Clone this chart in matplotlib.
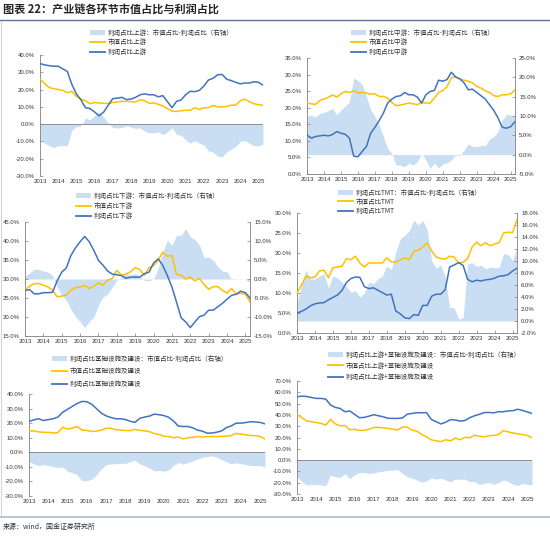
import numpy as np
import matplotlib.pyplot as plt
from matplotlib.lines import Line2D
from matplotlib.patches import Patch

plt.rcParams['font.family'] = ['Noto Sans CJK SC', 'DejaVu Sans']

years = ['2013', '2014', '2015', '2016', '2017', '2018', '2019',
         '2020', '2021', '2022', '2023', '2024', '2025']

# 上游
up_mv = [26, 23.5, 21.2, 20.5, 20, 19.6, 18.2, 19, 16, 14.5, 13.5, 11.8, 12.5, 12.3, 12, 12, 12.5, 12.8, 13.2, 13.2,
         13, 12.8, 14.2, 13.5, 12, 12.3, 11.5, 10.5, 9, 7.5, 7.3, 7.8, 8, 8, 9.5, 8.5, 9.5, 9.5, 10.8, 10,
         10, 10.2, 11, 11, 13.5, 14.5, 13, 11.8, 11.3, 10.8]
up_profit = [35, 34.3, 33.8, 33.5, 33.5, 32, 30.5, 23, 17.5, 14, 9.5, 9, 7, 4.8, 7, 11, 14.8, 15, 15.5, 14.2,
             14.5, 15.5, 17, 17.5, 17, 17, 15.8, 16.5, 13, 9.5, 13.2, 14, 17, 19, 18.8, 19.5, 22, 25.5, 26.5, 28.5,
             28.8, 26, 25.2, 24.2, 23.3, 23.8, 23.8, 24.5, 24.2, 22.5]
up_diff = [-9, -11, -12.5, -13.5, -12.5, -12.3, -12.5, -3.5, -1.5, -1, 3.5, 2.5, 5, 7, 4, 0.5, -2, -2.2, -2, -1,
           -1.8, -2.5, -2.2, -4, -5, -5, -4.5, -6, -4.5, -2, -6, -6.5, -9, -11, -9.5, -11, -12, -15.5, -16, -18.5,
           -19, -16, -14.5, -13, -10, -9.5, -11, -12.5, -12.5, -11.5]

# 中游
mid_mv = [21.4, 21.2, 21, 22.2, 22.6, 23.1, 23.9, 23.2, 24.2, 24.9, 24.6, 25.1, 24.4, 24.6, 24.4, 24.1, 24.2, 23.4,
          23.4, 22.9, 21.6, 20.6, 20.8, 21.1, 21.4, 21.2, 20.9, 21.6, 21.4, 21.4, 22.9, 24.6, 25.2, 26.4, 29, 29.3,
          28.7, 28.3, 28, 27.5, 26.4, 25.9, 25.1, 24.6, 23.6, 23.4, 23.9, 23.9, 24.2, 25.4]
mid_profit = [11.8, 10.8, 11.3, 11.5, 11.7, 11.5, 11.9, 12.8, 12.3, 12, 10.8, 5.4, 5.2, 6.8, 8.3, 12.3, 14.1, 16.1,
              18.4, 21.4, 22.6, 23.4, 23.6, 24.6, 23.9, 23.9, 23.2, 21.4, 23.9, 24.9, 25.2, 28.3, 28, 28.5, 30.7,
              29.3, 28.7, 27.5, 25.4, 25.6, 24.6, 23.6, 22.6, 20.9, 19.2, 16.9, 14.1, 13.8, 14.3, 15.8]
mid_diff = [9.9, 10.3, 9.7, 10.7, 10.9, 11.4, 12, 10.3, 11.6, 12.6, 13.7, 19.8, 19.2, 18.1, 15, 11.6, 9.9, 7.7, 4.7,
            1.6, 0.3, -2.7, -2.7, -3.1, -2.2, -2.7, -1.8, 0.2, -1.4, -3.5, -2.2, -3.5, -2.4, -2.1, -1.4, -0.1, -0.3,
            1.2, 2.8, 2.1, 2.1, 2.4, 2.4, 4, 4.7, 6, 9, 10.4, 10.3, 9.9]

# 下游
down_mv = [27.1, 28.1, 28.8, 28.8, 28.4, 27.9, 27.1, 25.3, 25.5, 25.8, 27.1, 27.7, 27.9, 28.3, 27.5, 28.1, 29, 28.4,
           29.7, 30.1, 32.3, 31, 31.3, 31.9, 33, 32.5, 31, 33, 33.5, 35, 37, 36, 36.2, 31.2, 31, 30, 30.5, 29.5,
           30.2, 28.5, 27.3, 28, 28, 27, 26.3, 27.5, 26, 26.3, 26, 24]
down_profit = [27, 27.2, 26.1, 26.1, 26.4, 26.4, 26.5, 29.5, 31.8, 32.9, 36.2, 38.2, 39.8, 41.2, 39.8, 37.5, 34.9,
               33.6, 32.1, 31.3, 31.1, 30.9, 30.2, 30.5, 30.5, 30.5, 31.4, 31.8, 34.2, 35.3, 33.6, 30.9, 27.9, 23.9,
               19.8, 18.7, 17.2, 18.7, 20.1, 20.5, 21.8, 21.8, 22.7, 23.6, 24.7, 25.7, 26, 26.8, 26.4, 25]
down_diff = [0.6, 1.6, 2.6, 2.5, 2.1, 1.8, 1, -2, -4.3, -5.6, -8, -9.9, -11.2, -12.8, -11.2, -9.9, -6.9, -4.7, -4,
             -2.1, -0.3, 0.4, 1.4, 1, 1.4, 0.6, -0.3, -0.5, 0, 2.8, 7.1, 10.2, 8.9, 11.5, 11.5, 13.3, 11.1, 10.4,
             8.9, 5.6, 5.8, 4.9, 3.2, 2.1, 1.9, -0.1, -0.1, 0.1, -0.1, -1]

# TMT
tmt_mv = [10, 12, 14.2, 13.8, 14, 15.5, 15.7, 13.8, 16.3, 16.5, 16.7, 18.6, 18.3, 19.2, 17.5, 16.5, 17.5, 17.5, 17.5,
          17.5, 18.8, 17.8, 17.7, 18.3, 18.8, 18.3, 20.4, 20.7, 21.5, 22.5, 20.5, 19, 18.6, 18.5, 19.2, 19, 17.5,
          17.7, 18.6, 21.5, 22.7, 21.8, 22.6, 21.8, 22.2, 22.6, 25, 25.2, 25.1, 28.3]
tmt_profit = [5, 5.4, 6, 6.8, 7.3, 7.5, 7.6, 8.3, 8.9, 9.5, 10.6, 12.6, 13.6, 14, 13.9, 11.6, 11.1, 11.3, 10.7, 10.1,
              9.5, 9.7, 5.5, 4.8, 3.8, 3.6, 4.6, 4.4, 6.9, 6.9, 9.2, 9.7, 9.7, 10.8, 16.5, 17, 17.6, 16.9, 13.4,
              12.8, 13.2, 13, 13.3, 13.4, 13.7, 14.2, 14.3, 14.6, 15.5, 16.2]
tmt_diff = [3, 6, 8.5, 7, 7, 7.5, 7.8, 5.5, 7.5, 7.2, 6.5, 5.8, 4.8, 5.1, 4, 4.6, 6.5, 6.2, 7, 7.5, 9.2, 8.6, 11.5,
            13.7, 14.3, 15, 16.8, 16, 16.8, 15.2, 10, 8.8, 9.3, 7.4, 2.3, 2.2, 0.3, 0.6, 9.5, 9.7, 9.1, 9.3, 8.7,
            9, 8.9, 8.9, 11.2, 11.1, 10.1, 12.3]

# 基础设施及建设
infra_mv = [14.7, 14.7, 14, 13.7, 13.7, 13.2, 13.5, 17.2, 16, 16.5, 17.7, 15.3, 15, 14.3, 14.5, 15.2, 16.5, 16.5,
            15.5, 15.3, 15, 14.8, 15.8, 15, 14.8, 14.2, 12.8, 12.2, 11, 10.8, 10, 10.5, 9.2, 10, 10.2, 10.8, 10.5,
            10.8, 10.8, 10.8, 11, 11, 11.5, 13, 12.5, 12, 11.5, 11.4, 10.8, 9]
infra_profit = [21.1, 22.3, 23, 21.8, 22.4, 23, 24.2, 27.5, 29.5, 31.5, 33.5, 34.9, 34.7, 33, 30, 26.9, 25, 23.9, 23,
                23, 22.5, 21.3, 20.5, 23.3, 24.2, 24.8, 26.2, 25.8, 25.2, 24, 21.5, 18, 17.7, 17.7, 16.8, 15.2,
                14.5, 13.1, 13.2, 13.8, 14.7, 17, 18.1, 20, 20, 20.4, 21, 20.8, 20.5, 19.5]
infra_diff = [-6.4, -8, -9.2, -8.5, -9, -10, -10.5, -10, -13, -14, -15.5, -19.5, -19.5, -18.5, -15.5, -11.5, -8.5,
              -8, -7.8, -7.6, -7.6, -6.5, -5.3, -8, -9.2, -10.8, -12.8, -12.5, -13, -12, -9, -7, -8.2, -7, -6,
              -4.5, -3.5, -2.8, -2.5, -3.5, -5, -6.5, -8, -7.2, -7.8, -8.5, -9, -9.2, -9, -10.3]

# 上游+基础设施及建设
ui_mv = [40.4, 37.5, 34.6, 34, 33.2, 32.5, 31, 36, 32, 30.4, 30.6, 26.8, 27.3, 26.3, 26.3, 27.2, 28.9, 28.9, 28.6,
         28, 27.4, 26.6, 29.3, 29.2, 26.5, 25.6, 22.7, 20.6, 17.9, 17.1, 16.3, 18, 17, 19.5, 18, 20.2, 19.8, 22,
         21.2, 20.6, 21.5, 21.8, 22.6, 26, 25, 24, 23.3, 22.5, 21.8, 19.8]
ui_profit = [56, 56.6, 56.3, 55.4, 54.6, 54.6, 54, 48.7, 46.6, 45.7, 42.8, 43.5, 40.5, 37.5, 37.8, 38.9, 40.2, 39.2,
             38.3, 37, 36.9, 36.9, 37.3, 40.7, 41.3, 41.9, 41.9, 42, 36, 34, 32, 33.5, 35.8, 35.5, 34.5, 35, 37.5,
             39.2, 40.5, 42, 42.2, 41.8, 42.8, 42.8, 43.5, 43.7, 45, 44, 42.6, 41.3]
ui_diff = [-14.7, -19, -22, -21.5, -21.5, -22, -22.7, -13.3, -14.7, -15.5, -12, -16.5, -13, -11, -11, -11.8, -11.5,
           -10.3, -9.7, -8.9, -9.2, -8.3, -12, -14.7, -16, -17.5, -19.5, -18.5, -15.6, -16.8, -16, -17.7, -19.2,
           -16.8, -17, -16.8, -19, -18.8, -21.5, -20.8, -19.8, -21.5, -19.8, -17.7, -18.8, -21.5, -22.5, -20.6,
           -21.5, -22]

YELLOW = '#FFC000'
BLUE = '#4173C0'
AREA = '#C9DEF2'
AXIS = '#7f7f7f'
TXT = '#333333'

W, H = 550, 536
fig = plt.figure(figsize=(W / 100, H / 100), dpi=100)


def frame(l, t, r, b):
    return [l / W, 1 - b / H, (r - l) / W, (b - t) / H]


def pct_ticks(ax, lo, hi, step):
    vals = np.arange(lo, hi + step / 2, step)
    ax.set_ylim(lo, hi)
    ax.set_yticks(vals)
    ax.set_yticklabels([f'{v:.1f}%' for v in vals])


def panel(rect, mv, profit, diff, name, ylim, rlim=None, leg=(0, 0, 0.3)):
    ax = fig.add_axes(frame(*rect))
    x = np.arange(len(mv))
    if rlim is None:
        ax.fill_between(x, 0, diff, color=AREA, lw=0, zorder=1)
        ax.axhline(0, color=AXIS, lw=0.6, zorder=2)
        for s in ['top', 'right', 'bottom']:
            ax.spines[s].set_visible(False)
        ax.tick_params(axis='x', length=0)
    else:
        ax2 = ax.twinx()
        ax2.fill_between(x, 0, diff, color=AREA, lw=0)
        pct_ticks(ax2, *rlim)
        for s in ['top', 'left', 'bottom']:
            ax2.spines[s].set_visible(False)
        ax2.spines['right'].set_color(AXIS)
        ax2.spines['right'].set_linewidth(0.6)
        ax2.tick_params(axis='y', direction='in', length=2, width=0.5, color=AXIS, pad=3,
                        labelsize=4.3, labelcolor=TXT, labelfontfamily='Liberation Sans')
        ax.set_zorder(ax2.get_zorder() + 1)
        ax.patch.set_visible(False)
        for s in ['top', 'right']:
            ax.spines[s].set_visible(False)
        ax.spines['bottom'].set_color(AXIS)
        ax.spines['bottom'].set_linewidth(0.6)
        ax.tick_params(axis='x', direction='in', length=2, width=0.5, color=AXIS)
    ax.plot(x, mv, color=YELLOW, lw=1.1, zorder=3)
    ax.plot(x, profit, color=BLUE, lw=1.1, zorder=4)
    ax.spines['left'].set_color(AXIS)
    ax.spines['left'].set_linewidth(0.6)
    pct_ticks(ax, *ylim)
    ax.set_xlim(0, len(mv) - 1)
    ax.set_xticks(np.arange(0, len(mv), 4))
    ax.set_xticklabels(years)
    ax.tick_params(axis='x', pad=2.5, labelsize=4.3, labelcolor=TXT, labelfontfamily='Liberation Sans')
    ax.tick_params(axis='y', direction='in', length=2, width=0.5, color=AXIS, pad=4,
                   labelsize=4.3, labelcolor=TXT, labelfontfamily='Liberation Sans')

    handles = [Patch(facecolor=AREA, edgecolor='none'),
               Line2D([], [], color=YELLOW, lw=1.3),
               Line2D([], [], color=BLUE, lw=1.3)]
    labels = [f'利润占比{name}：市值占比-利润占比（右轴）', f'市值占比{name}', f'利润占比{name}']
    lx, ly, gap = leg
    ax.legend(handles, labels, loc='upper left', bbox_to_anchor=(lx / W, 1 - (ly - 3.5) / H),
              bbox_transform=fig.transFigure, frameon=False, fontsize=4.7, labelcolor=TXT,
              handlelength=2.3, handleheight=0.9, handletextpad=0.4, labelspacing=gap,
              borderpad=0, borderaxespad=0)
    return ax


panel((40, 55, 263, 176), up_mv, up_profit, up_diff, '上游', (-30, 40, 10), leg=(90, 32, 0.3))
panel((307, 58, 515, 174), mid_mv, mid_profit, mid_diff, '中游', (0, 35, 5), (-5, 25, 5), leg=(351, 32, 0.3))
panel((25, 222, 250, 336), down_mv, down_profit, down_diff, '下游', (15, 45, 5), (-15, 15, 5), leg=(76, 195, 0.38))
panel((297, 213, 517, 333), tmt_mv, tmt_profit, tmt_diff, 'TMT', (0, 30, 5), (-2, 18, 2), leg=(338, 192, 0.22))
panel((29, 394, 265, 496), infra_mv, infra_profit, infra_diff, '基础设施及建设', (-30, 40, 10), leg=(52, 358, 0.75))
panel((297, 381, 532, 494), ui_mv, ui_profit, ui_diff, '上游+基础设施及建设', (-30, 70, 10), leg=(328, 354, 0.5))

# 标题、分隔线、来源
fig.text(3 / W, 1 - 10 / H, '图表 22：产业链各环节市值占比与利润占比', fontsize=8, fontweight='bold',
         color='#262626', va='center', ha='left')
fig.add_artist(Line2D([0, 1], [1 - 20 / H] * 2, color='#5b7592', lw=1.0))
fig.add_artist(Line2D([1 / W] * 2, [1 - 21 / H, 1 - 516 / H], color='#d6d6d6', lw=0.8))
fig.add_artist(Line2D([0, 1], [1 - 517 / H] * 2, color='#a9bccf', lw=1.2))
fig.text(3 / W, 1 - 527 / H, '来源：wind，国金证券研究所', fontsize=5, color=TXT, va='center', ha='left')

fig.savefig('out.png', dpi=100)
